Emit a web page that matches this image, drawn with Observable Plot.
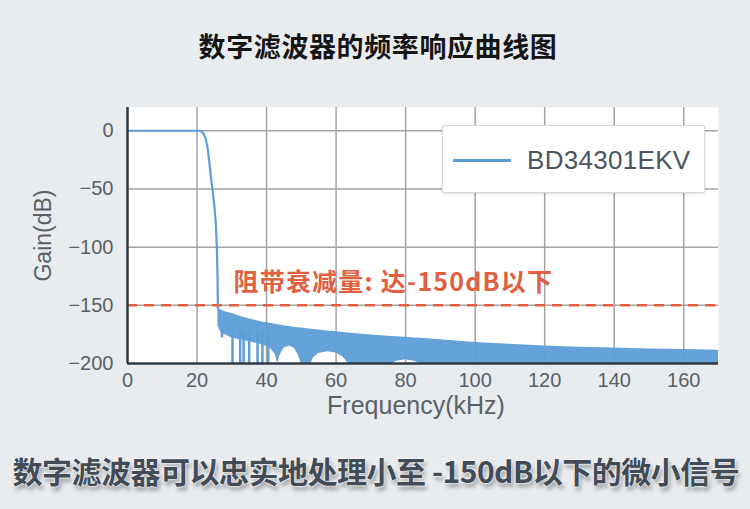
<!DOCTYPE html>
<html>
<head>
<meta charset="utf-8">
<script src="https://cdn.jsdelivr.net/npm/d3@7"></script>
<script src="https://cdn.jsdelivr.net/npm/@observablehq/plot@0.6"></script>
<style>
  html, body { margin: 0; padding: 0; }
  body { width: 750px; height: 509px; background: #e8ecef; position: relative; overflow: hidden; }
  #title { position: absolute; left: 0; width: 756px; top: 26px; line-height: 30px; text-align: center;
    font: bold 27px "Noto Sans CJK SC", sans-serif; color: #151515; letter-spacing: 0.6px; }
  #chart { position: absolute; left: 0; top: 0; }
  #legend { position: absolute; left: 442px; top: 125px; width: 263px; height: 68px; box-sizing: border-box;
    background: #fff; border: 1px solid #d8d8d8; border-radius: 2px; box-shadow: 0 1px 3px rgba(0,0,0,0.12); }
  #legend .swatch { position: absolute; left: 10px; top: 33px; width: 58px; height: 3px; background: #5b9bd5; }
  #legend .lab { position: absolute; left: 84px; top: 19px; line-height: 30px; font: 26px "Liberation Sans", Arial, sans-serif; color: #4a5560; letter-spacing: 0.3px; }
  #caption { position: absolute; left: 0; width: 752px; top: 448px; line-height: 34px; text-align: center;
    font: bold 30px "Noto Sans CJK SC", sans-serif; color: #414c57; letter-spacing: -0.5px;
    text-shadow: 0 0 2px #fff, 0 0 2px #fff, 2px 4px 4px rgba(0,0,0,0.35); }
</style>
</head>
<body>
<div id="chart"></div>
<div id="title">数字滤波器的频率响应曲线图</div>
<div id="legend"><div class="swatch"></div><div class="lab">BD34301EKV</div></div>
<div id="caption">数字滤波器可以忠实地处理小至 -150dB以下的微小信号</div>
<script>
// ---- data ----
const xTicks = [0, 20, 40, 60, 80, 100, 120, 140, 160];
const yTicks = [0, -50, -100, -150, -200];

// passband + transition band (kHz, dB)
const passFreq = [0, 20.5, 21.2, 21.8, 22.4, 23, 23.5, 24, 24.5, 25, 25.4, 25.7, 25.9, 26];
const passGain = [0, 0, -0.6, -2, -6, -14, -26, -40, -52, -65, -80, -100, -125, -152];

// stopband envelope of the dense ripple (kHz, upper dB, lower dB)
const stopFreq  = [26, 27, 28, 30, 33, 36, 39, 41, 42.5, 43.2, 44, 45, 46.5, 48, 49, 50, 52.8, 53.5, 55, 57.5, 60, 62, 63.5, 70, 76, 77.5, 80, 82.5, 84, 90, 100, 110, 120, 130, 140, 150, 160, 170];
const stopUpper = [-152, -154, -155.5, -157, -160, -162.5, -164.5, -165.5, -166.3, -166.8, -167, -167.5, -168.2, -168.8, -169.2, -169.5, -170.5, -170.8, -171.3, -172, -172.7, -173.3, -173.8, -175.5, -176.8, -177.1, -177.5, -178, -178.3, -179.5, -182, -183.5, -185, -186, -186.7, -187.5, -188, -188.7];
const stopLower = [-168, -174, -175, -178, -180, -182, -184, -187, -192, -200, -192, -187, -185, -187, -192, -200, -200, -195, -191.5, -190, -191, -194.5, -200, -200, -200, -198, -196.8, -198, -200, -200, -200, -200, -200, -200, -200, -200, -200, -200];

// deep notches in the stopband (kHz, bottom dB)
const notchFreq = [27.2, 30.2, 32.4, 33.4, 35.0, 37.4, 38.8, 40.5];
const notchLow  = [-178, -200, -200, -200, -200, -200, -200, -200];

const limitDb = -150;
const annotation = "阻带衰减量: 达-150dB以下";
const seriesName = "BD34301EKV";

// ---- tables ----
const pass = passFreq.map((f, i) => ({f, g: passGain[i]}));
const stop = stopFreq.map((f, i) => ({f, hi: stopUpper[i], lo: stopLower[i]}));
const notches = notchFreq.map((f, i) => ({f, lo: notchLow[i]}));

const blue = "#5d9dd8";
const red = "#e0603f";
const axisColor = "#2f3a44";
const gridColor = "#a3a3a3";
const labelColor = "#5a6068";

const chart = Plot.plot({
  width: 750,
  height: 509,
  marginLeft: 127,
  marginRight: 32,
  marginTop: 107,
  marginBottom: 146,
  x: {domain: [0, 170]},
  y: {domain: [-200, 20]},
  style: {background: "transparent", fontFamily: "Liberation Sans, Arial, sans-serif", fontSize: "20px", color: labelColor},
  marks: [
    Plot.frame({fill: "white", stroke: null}),
    Plot.gridX(xTicks.filter(d => d > 0), {stroke: gridColor, strokeOpacity: 1, strokeWidth: 1.5}),
    Plot.gridY(yTicks.filter(d => d > -200), {stroke: gridColor, strokeOpacity: 1, strokeWidth: 1.5}),
    Plot.areaY(stop, {x: "f", y1: "lo", y2: "hi", fill: blue, fillOpacity: 0.95}),
    Plot.ruleX(notches, {x: "f", y1: "lo", y2: -172, stroke: blue, strokeWidth: 2.5}),
    Plot.line(pass, {x: "f", y: "g", stroke: blue, strokeWidth: 2.2}),
    Plot.ruleY([limitDb], {stroke: red, strokeWidth: 2.5, strokeDasharray: "10,7"}),
    Plot.text([annotation], {x: 30.5, y: -131, textAnchor: "start", fill: red, fontSize: 25, fontWeight: "bold",
      fontFamily: "Noto Sans CJK SC", ariaLabel: "annotation"}),
    Plot.ruleX([0], {stroke: axisColor, strokeWidth: 2.5}),
    Plot.ruleY([-200], {stroke: axisColor, strokeWidth: 2.5}),
    Plot.axisX({ticks: xTicks, tickSize: 0, tickPadding: 9, label: null, fontSize: 20}),
    Plot.axisY({ticks: yTicks, tickSize: 0, tickPadding: 14, label: null, fontSize: 20}),
    Plot.text(["Frequency(kHz)"], {frameAnchor: "bottom", textAnchor: "middle", lineAnchor: "middle", dx: -7, dy: 42, fontSize: 25, fill: labelColor}),
    Plot.text(["Gain(dB)"], {frameAnchor: "left", textAnchor: "middle", lineAnchor: "middle", dx: -84, rotate: -90, fontSize: 23, fill: labelColor})
  ]
});
document.getElementById("chart").appendChild(chart);
document.querySelector("#legend .lab").textContent = seriesName;
// widen the annotation's letter spacing like the reference
chart.querySelectorAll("text").forEach(t => {
  if (t.textContent === annotation) t.style.letterSpacing = "1.2px";
});
</script>
</body>
</html>
